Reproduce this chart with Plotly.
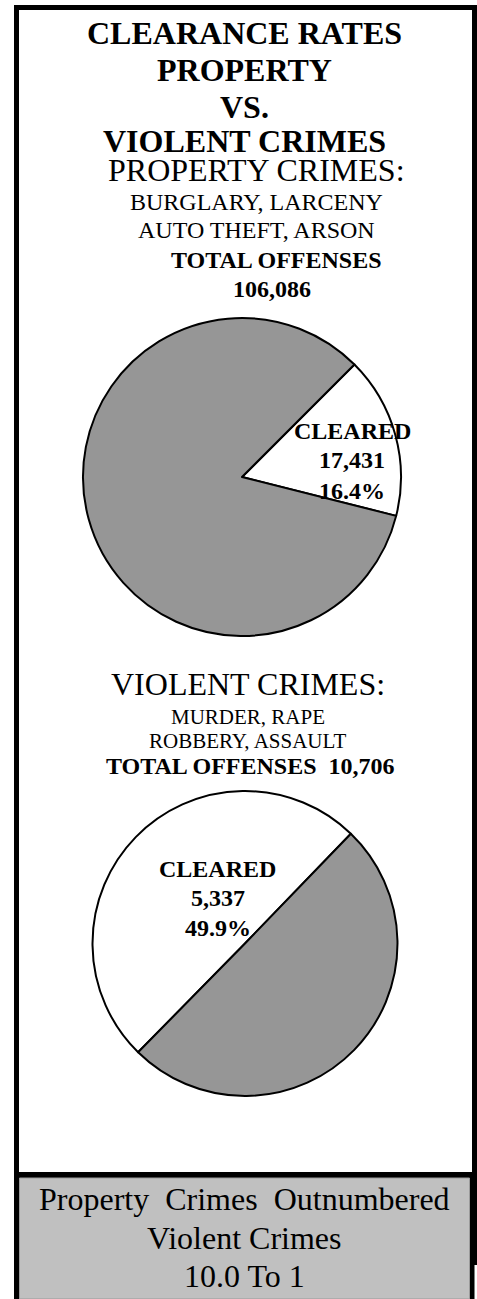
import plotly.graph_objects as go

W, H = 477, 1299

# ---- data ----
slice_labels = ["CLEARED", "NOT CLEARED"]
property_total = 106086
property_cleared = 17431
violent_total = 10706
violent_cleared = 5337
property_values = [property_cleared, property_total - property_cleared]
violent_values = [violent_cleared, violent_total - violent_cleared]
ratio_label = "10.0"

title_lines = ["CLEARANCE RATES", "PROPERTY", "VS.", "VIOLENT CRIMES"]
property_heading = "PROPERTY CRIMES:"
property_types = ["BURGLARY, LARCENY", "AUTO THEFT, ARSON"]
violent_heading = "VIOLENT CRIMES:"
violent_types = ["MURDER, RAPE", "ROBBERY, ASSAULT"]

SERIF = "Liberation Serif"
SLICE_COLORS = ["#ffffff", "#969696"]


def px(x):
    return x / W


def py(y):
    return 1 - y / H


def fmt(n):
    return f"{n:,}"


fig = go.Figure()

# pies
fig.add_trace(go.Pie(
    labels=slice_labels, values=property_values, sort=False,
    direction="clockwise", rotation=45,
    marker=dict(colors=SLICE_COLORS, line=dict(color="black", width=2)),
    textinfo="none", hoverinfo="skip", showlegend=False,
    domain=dict(x=[px(83), px(401)], y=[py(636), py(318)]),
))
fig.add_trace(go.Pie(
    labels=slice_labels, values=violent_values, sort=False,
    direction="clockwise", rotation=-135.5,
    marker=dict(colors=SLICE_COLORS, line=dict(color="black", width=2)),
    textinfo="none", hoverinfo="skip", showlegend=False,
    domain=dict(x=[px(92.5), px(397.5)], y=[py(1096), py(791)]),
))

# frame shapes
shapes = [
    dict(type="rect", x0=px(14), x1=px(477), y0=py(1299), y1=py(5),
         fillcolor="black", line=dict(width=0), layer="below"),
    dict(type="rect", x0=px(19), x1=px(472), y0=py(1172), y1=py(10),
         fillcolor="white", line=dict(width=0), layer="below"),
    dict(type="rect", x0=px(19.5), x1=px(469.5), y0=py(1299), y1=py(1178),
         fillcolor="#c0c0c0", line=dict(color="#9a9a9a", width=1), layer="below"),
    dict(type="rect", x0=px(474.5), x1=px(477), y0=py(1299), y1=py(1265),
         fillcolor="white", line=dict(width=0), layer="below"),
]

ann = []


def add_text(text, x, y, size, bold=False):
    t = f"<b>{text}</b>" if bold else text
    ann.append(dict(text=t, x=px(x), y=py(y), xref="paper", yref="paper",
                    xanchor="center", yanchor="middle", showarrow=False,
                    font=dict(family=SERIF, size=size, color="black")))


# title
for line, yc in zip(title_lines, [33.5, 70.5, 107.5, 141]):
    add_text(line, 245, yc, 32, bold=True)

# property header block
add_text(property_heading, 256, 170, 32)
for line, yc in zip(property_types, [201.5, 230]):
    add_text(line, 256, yc, 24)
add_text("TOTAL OFFENSES", 276, 260, 24, bold=True)
add_text(fmt(property_total), 272, 289, 24, bold=True)

# property pie label
p_pct = property_cleared / property_total * 100
add_text("CLEARED", 352, 430.5, 24, bold=True)
add_text(fmt(property_cleared), 352, 460, 24, bold=True)
add_text(f"{p_pct:.1f}%", 352, 490.5, 24, bold=True)

# violent header block
add_text(violent_heading, 247.5, 684, 32)
for line, yc in zip(violent_types, [716.5, 740.5]):
    add_text(line, 247.5, yc, 21)
add_text("TOTAL OFFENSES\u00a0 " + fmt(violent_total), 251, 766.5, 24, bold=True)

# violent pie label
v_pct = violent_cleared / violent_total * 100
add_text("CLEARED", 217.5, 869, 24, bold=True)
add_text(fmt(violent_cleared), 218, 898, 24, bold=True)
add_text(f"{v_pct:.1f}%", 217.5, 928, 24, bold=True)

# bottom box
add_text("Property\u00a0 Crimes\u00a0 Outnumbered", 244, 1199, 32)
add_text("Violent Crimes", 245, 1238, 32)
add_text(f"{ratio_label} To 1", 244, 1276, 32)

fig.update_layout(
    width=W, height=H,
    margin=dict(l=0, r=0, t=0, b=0),
    paper_bgcolor="white", plot_bgcolor="white",
    shapes=shapes, annotations=ann,
    showlegend=False,
)

fig.write_html(
    "out.html",
    config={"displayModeBar": False},
    post_script="document.body.style.margin='0';document.body.style.overflow='hidden';",
)
